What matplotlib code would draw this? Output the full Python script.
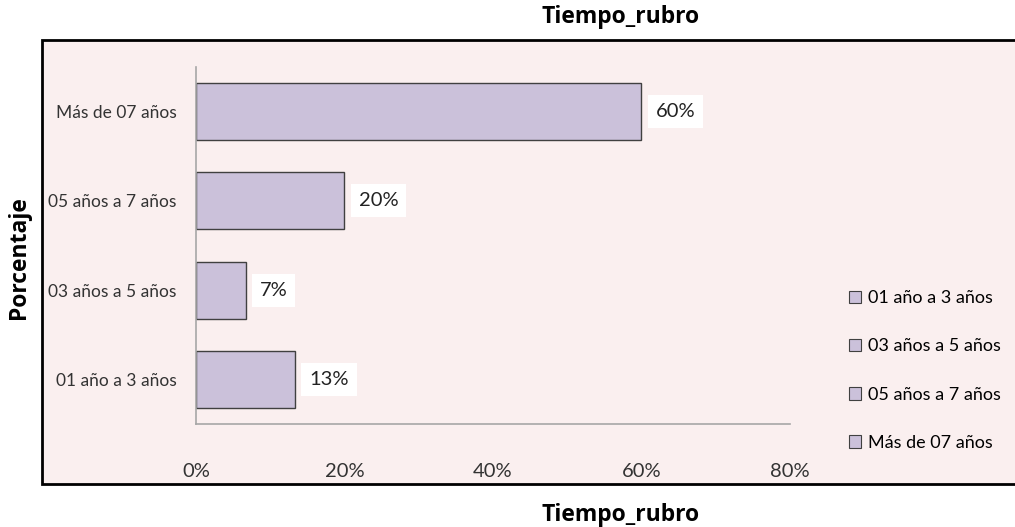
import matplotlib.pyplot as plt
from matplotlib.patches import Rectangle, Patch

categorias = ["01 año a 3 años", "03 años a 5 años", "05 años a 7 años", "Más de 07 años"]
porcentajes = [13.33, 6.67, 20.0, 60.0]
etiquetas = ["13%", "7%", "20%", "60%"]
ticks_x = [0, 20, 40, 60, 80]

fuente = ["Lato", "DejaVu Sans"]
plt.rcParams["font.family"] = fuente

color_barra = "#CBC1DA"
color_fondo = "#FAEFEF"

fig = plt.figure(figsize=(10.15, 5.27), dpi=100)

# marco del grafico
marco = Rectangle((0.0414, 0.0816), 0.975, 0.8425, transform=fig.transFigure,
                  facecolor=color_fondo, edgecolor="black", linewidth=2, zorder=-10)
fig.patches.append(marco)

ax = fig.add_axes([0.1931, 0.1954, 0.5852, 0.6775])
ax.set_facecolor("none")

y = range(len(categorias))
ax.barh(y, porcentajes, height=0.64, color=color_barra, edgecolor="#404040", linewidth=1)

for i, (v, t) in enumerate(zip(porcentajes, etiquetas)):
    ax.text(v + 1.9, i, t, va="center", ha="left", fontsize=14.5, color="#222222",
            bbox=dict(boxstyle="square,pad=0.4", facecolor="white", edgecolor="none"))

ax.set_xlim(0, 80)
ax.set_ylim(-0.5, 3.5)
ax.set_xticks(ticks_x)
ax.set_xticklabels([f"{t}%" for t in ticks_x], fontsize=14.5)
ax.set_yticks(list(y))
ax.set_yticklabels(categorias, fontsize=12.5)
ax.tick_params(axis="both", length=0, colors="#333333")
ax.tick_params(axis="x", pad=28)
ax.tick_params(axis="y", pad=14)

for s in ["top", "right"]:
    ax.spines[s].set_visible(False)
for s in ["left", "bottom"]:
    ax.spines[s].set_color("#A6A6A6")
    ax.spines[s].set_linewidth(1.2)

# titulos
titulo = dict(ha="center", va="center", fontsize=16.5, fontweight="bold",
              family=["Open Sans", "DejaVu Sans"])
fig.text(0.611, 0.968, "Tiempo_rubro", **titulo)
fig.text(0.611, 0.022, "Tiempo_rubro", **titulo)
fig.text(0.019, 0.512, "Porcentaje", rotation=90, **titulo)

# leyenda
handles = [Patch(facecolor=color_barra, edgecolor="#404040", linewidth=0.8) for _ in categorias]
leg = fig.legend(handles, categorias, loc="center left", bbox_to_anchor=(0.82, 0.297),
                 frameon=False, handlelength=0.7, handleheight=0.7, handletextpad=0.35,
                 labelspacing=1.78, prop={"size": 13})

fig.savefig("out.png", dpi=100)
